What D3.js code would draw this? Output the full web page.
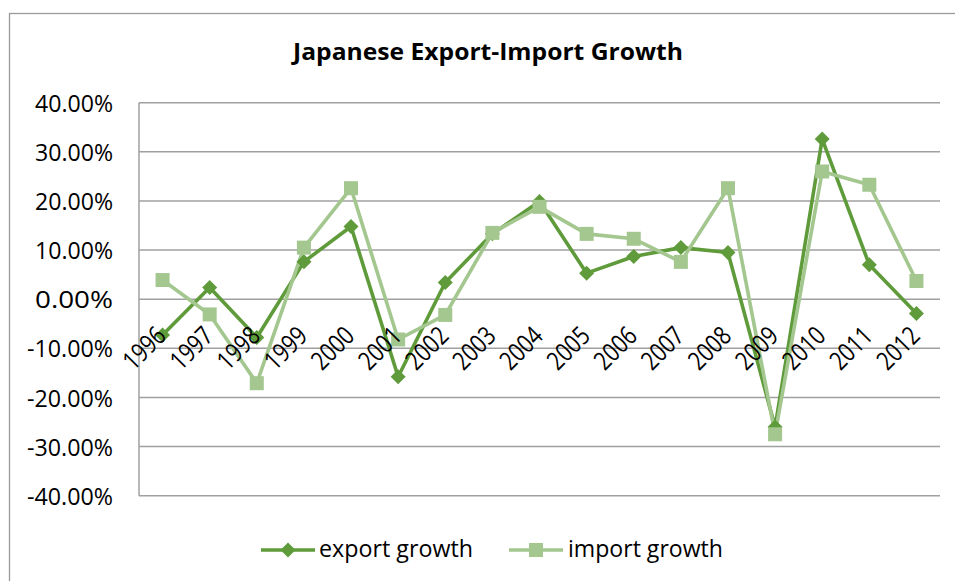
<!DOCTYPE html>
<html>
<head>
<meta charset="utf-8">
<script src="https://cdn.jsdelivr.net/npm/d3@7"></script>
<style>
  html, body { margin: 0; padding: 0; background: #fff; }
  svg { display: block; }
  text { font-family: "Open Sans", sans-serif; fill: #000; }
</style>
</head>
<body>
<svg id="chart" width="955" height="581"></svg>
<script>
// Annual growth of Japanese exports and imports
const years = ["1996","1997","1998","1999","2000","2001","2002","2003","2004",
               "2005","2006","2007","2008","2009","2010","2011","2012"];
const exportGrowth = [-0.073, 0.024, -0.078, 0.076, 0.148, -0.158, 0.034, 0.133, 0.199,
                      0.053, 0.087, 0.105, 0.095, -0.260, 0.326, 0.070, -0.029];
const importGrowth = [0.039, -0.031, -0.171, 0.105, 0.226, -0.082, -0.032, 0.135, 0.188,
                      0.133, 0.123, 0.076, 0.226, -0.275, 0.260, 0.233, 0.037];
const yTicks = [-0.4, -0.3, -0.2, -0.1, 0, 0.1, 0.2, 0.3, 0.4];
const titleText = "Japanese Export-Import Growth";
const seriesNames = ["export growth", "import growth"];

const svg = d3.select("#chart");
const plot = { left: 139, right: 940, top: 102.7, bottom: 495.7 };

const x = d3.scalePoint().domain(years).range([plot.left, plot.right]).padding(0.5);
const y = d3.scaleLinear().domain([-0.4, 0.4]).range([plot.bottom, plot.top]);
const pct = v => d3.format(".2%")(v).replace("\u2212", "-");

const darkGreen = "#5f9b3a";
const lightGreen = "#a3c78f";
const gridColor = "#a0a0a0";

// chart area frame
svg.append("rect")
  .attr("x", 9.5).attr("y", 13.5).attr("width", 1000).attr("height", 700)
  .attr("fill", "none").attr("stroke", "#9a9a9a").attr("stroke-width", 1.3);

// title
svg.append("text")
  .attr("x", 488).attr("y", 60)
  .attr("text-anchor", "middle")
  .attr("font-size", 23).attr("font-weight", "bold")
  .attr("textLength", 390).attr("lengthAdjust", "spacingAndGlyphs")
  .text(titleText);

// horizontal gridlines
svg.append("g").selectAll("line").data(yTicks).join("line")
  .attr("x1", plot.left).attr("x2", plot.right)
  .attr("y1", d => y(d)).attr("y2", d => y(d))
  .attr("stroke", gridColor).attr("stroke-width", 1.5);

// vertical axis line
svg.append("line")
  .attr("x1", plot.left).attr("x2", plot.left)
  .attr("y1", plot.top).attr("y2", plot.bottom)
  .attr("stroke", gridColor).attr("stroke-width", 1.5);

// value axis labels
const yAxis = svg.append("g")
  .attr("transform", `translate(${plot.left},0)`)
  .call(d3.axisLeft(y).tickValues(yTicks).tickFormat(pct).tickSize(0).tickPadding(26));
yAxis.select(".domain").remove();
yAxis.selectAll("text")
  .attr("font-size", 24)
  .attr("font-family", null)
  .attr("dy", "0.36em")
  .each(function(d) {
    d3.select(this).attr("textLength", d < 0 ? 86 : 78).attr("lengthAdjust", "spacingAndGlyphs");
  });

// series lines
const line = d3.line().x((d, i) => x(years[i])).y(d => y(d));
const series = [
  { name: seriesNames[0], values: exportGrowth, color: darkGreen, marker: "diamond" },
  { name: seriesNames[1], values: importGrowth, color: lightGreen, marker: "square" }
];

series.forEach(s => {
  svg.append("path")
    .datum(s.values)
    .attr("d", line)
    .attr("fill", "none")
    .attr("stroke", s.color)
    .attr("stroke-width", 3.6)
    .attr("stroke-linejoin", "round");
});

function markerPath(type, cx, cy) {
  if (type === "diamond") {
    const r = 7.5;
    return `M${cx},${cy - r}L${cx + r},${cy}L${cx},${cy + r}L${cx - r},${cy}Z`;
  }
  const h = 7;
  return `M${cx - h},${cy - h}H${cx + h}V${cy + h}H${cx - h}Z`;
}

series.forEach(s => {
  svg.append("g").selectAll("path").data(s.values).join("path")
    .attr("d", (d, i) => markerPath(s.marker, x(years[i]), y(d)))
    .attr("fill", s.color);
});

// category labels, rotated 45 degrees
svg.append("g").selectAll("text").data(years).join("text")
  .attr("transform", d => `translate(${x(d) + 5},337.5) rotate(-45)`)
  .attr("text-anchor", "end")
  .attr("font-size", 26)
  .attr("textLength", 48).attr("lengthAdjust", "spacingAndGlyphs")
  .text(d => d);

// legend
const legendItems = [
  { s: series[0], x0: 261, tx: 319, tl: 154 },
  { s: series[1], x0: 509, tx: 568, tl: 155 }
];
const ly = 550;
legendItems.forEach(it => {
  svg.append("line")
    .attr("x1", it.x0).attr("x2", it.x0 + 54)
    .attr("y1", ly).attr("y2", ly)
    .attr("stroke", it.s.color).attr("stroke-width", 3.6);
  svg.append("path")
    .attr("d", markerPath(it.s.marker, it.x0 + 27, ly))
    .attr("fill", it.s.color);
  svg.append("text")
    .attr("x", it.tx).attr("y", ly + 7)
    .attr("font-size", 24)
    .attr("textLength", it.tl).attr("lengthAdjust", "spacingAndGlyphs")
    .text(it.s.name);
});
</script>
</body>
</html>
